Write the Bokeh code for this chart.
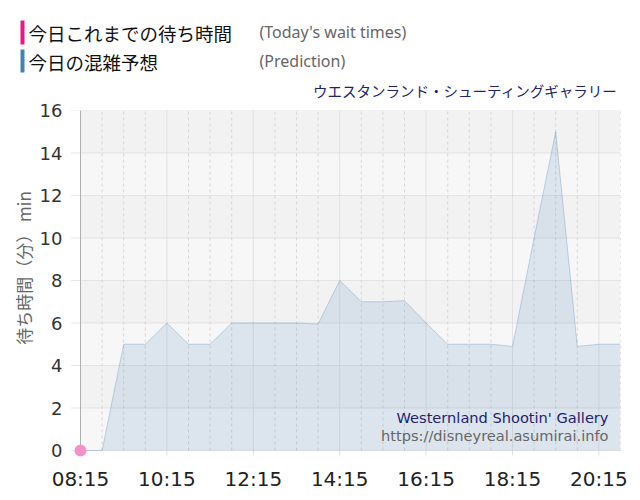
import math
from bokeh.plotting import figure
from bokeh.models import Range1d, FixedTicker, Label
from bokeh.layouts import column, row
from bokeh.embed import file_html
from bokeh.resources import INLINE
from bokeh.core.properties import value

# ---------------- data ----------------
pred_times = ["08:15", "08:45", "09:15", "09:45", "10:15", "10:45", "11:15", "11:45",
              "12:15", "12:45", "13:15", "13:45", "14:15", "14:45", "15:15", "15:45",
              "16:15", "16:45", "17:15", "17:45", "18:15", "18:45", "19:15", "19:45",
              "20:15", "20:45"]
pred_wait = [0, 0, 5, 5, 6, 5, 5, 6,
             6, 6, 6, 5.95, 8, 7, 7, 7.05,
             6, 5, 5, 5, 4.9, 10, 15, 4.9,
             5, 5]
actual_times = ["08:15"]
actual_wait = [0]
x_tick_labels = ["08:15", "10:15", "12:15", "14:15", "16:15", "18:15", "20:15"]
minor_tick_labels = ["08:45", "09:15", "09:45", "10:45", "11:15", "11:45", "12:45", "13:15",
                     "13:45", "14:45", "15:15", "15:45", "16:45", "17:15", "17:45", "18:45",
                     "19:15", "19:45", "20:45"]
y_ticks = [0, 2, 4, 6, 8, 10, 12, 14, 16]
attraction_jp = "ウエスタンランド・シューティングギャラリー"
attraction_en = "Westernland Shootin' Gallery"
site_url = "https://disneyreal.asumirai.info"
legend_actual = ("今日これまでの待ち時間", "(Today's wait times)")
legend_pred = ("今日の混雑予想", "(Prediction)")
y_title = "待ち時間（分） min"


def hours(t):
    h, m = t.split(":")
    return int(h) + int(m) / 60.0


px = [hours(t) for t in pred_times]
ax = [hours(t) for t in actual_times]
xt = [hours(t) for t in x_tick_labels]
xm = [hours(t) for t in minor_tick_labels]

CJK = value("Noto Sans CJK JP")


def blank(width, height, xr, yr):
    f = figure(width=width, height=height, x_range=xr, y_range=yr,
               output_backend="svg", toolbar_location=None, x_axis_type=None, y_axis_type=None,
               min_border=0, min_border_left=0, min_border_right=0, min_border_top=0,
               min_border_bottom=0, outline_line_color=None, frame_align=False)
    f.grid.visible = False
    return f


# ---------------- header (legend + attraction name) ----------------
h = blank(640, 100, Range1d(0, 640), Range1d(100, 0))
h.quad(left=[20, 20], right=[24, 24], top=[20, 49], bottom=[44, 72],
       fill_color=["#f0148c", "#4682b4"], line_color=None)
h.text(x=[28, 28], y=[32, 61], text=[legend_actual[0], legend_pred[0]],
       text_font=CJK, text_font_size="18.5px", text_color="#111111",
       text_baseline="middle", text_align="left")
h.text(x=[259, 259], y=[31, 60], text=[legend_actual[1], legend_pred[1]],
       text_font=value("Noto Sans"), text_font_size="16px", text_color="#666666",
       text_baseline="middle", text_align="left")
h.text(x=[617], y=[89.5], text=[attraction_jp], text_font=CJK, text_font_size="14.5px",
       text_color="#22226e", text_baseline="middle", text_align="right")

# ---------------- y-axis title strip ----------------
SW = 35
s = blank(SW, 400, Range1d(0, SW), Range1d(0, 400))
s.text(x=[22.5], y=[232.5], text=[y_title], angle=math.pi / 2, text_font=CJK,
       text_font_size="17px", text_color="#666666", text_align="center",
       text_baseline="middle")

# ---------------- main chart ----------------
PXH = 43.2      # pixels per hour
PXY = 21.25     # pixels per minute of wait
x0 = xt[0] - 12 / PXH
x1 = 20.75
y0 = -8 / PXY
y1 = 16

p = figure(frame_width=552, frame_height=348, x_range=Range1d(x0, x1), y_range=Range1d(y0, y1),
           output_backend="svg", toolbar_location=None,
           min_border_left=33, min_border_right=20, min_border_top=10, min_border_bottom=42,
           outline_line_color=None, background_fill_color="white", frame_align=False)
p.grid.visible = False

# background bands
band_lo = y_ticks[:-1]
band_hi = y_ticks[1:]
band_col = ["#f7f7f7" if (i % 2 == 0) else "#f2f2f2" for i in range(len(band_lo))]
p.quad(left=xt[0], right=x1, bottom=band_lo, top=band_hi, fill_color=band_col, line_color=None)

# grid lines
p.segment(x0=xm, x1=xm, y0=0, y1=16, line_color="#d6d6d6", line_dash="3 3", line_width=1)
p.segment(x0=xt, x1=xt, y0=-5 / PXY, y1=16, line_color="#e2e2e2", line_width=1)
p.segment(x0=x0 + 3 / PXH, x1=x1, y0=y_ticks, y1=y_ticks, line_color="#cfcfcf",
          line_dash="1 1", line_width=1)

# prediction area
p.varea(x=px, y1=0, y2=pred_wait, fill_color="#4682b4", fill_alpha=0.15)
p.line(x=px, y=pred_wait, line_color="#4682b4", line_alpha=0.3, line_width=1)

# y axis line
p.segment(x0=[xt[0]], x1=[xt[0]], y0=[0], y1=[16], line_color="#b0b0b0", line_width=1)

# actual
p.scatter(x=ax, y=actual_wait, size=12, fill_color="#f590c8", line_color=None)

# axes
p.xaxis.ticker = FixedTicker(ticks=xt)
p.xaxis.major_label_overrides = {v: s_ for v, s_ in zip(xt, x_tick_labels)}
p.xaxis.axis_line_color = None
p.xaxis.major_tick_line_color = None
p.xaxis.minor_tick_line_color = None
p.xaxis.major_tick_out = 0
p.xaxis.major_tick_in = 0
p.xaxis.minor_tick_out = 0
p.xaxis.major_label_text_font = "DejaVu Sans"
p.xaxis.major_label_text_font_size = "20px"
p.xaxis.major_label_text_color = "#222222"
p.xaxis.major_label_standoff = 8

p.yaxis.ticker = FixedTicker(ticks=y_ticks)
p.yaxis.axis_line_color = None
p.yaxis.major_tick_line_color = None
p.yaxis.minor_tick_line_color = None
p.yaxis.major_tick_out = 0
p.yaxis.major_tick_in = 0
p.yaxis.minor_tick_out = 0
p.yaxis.major_label_text_font = "DejaVu Sans"
p.yaxis.major_label_text_font_size = "18px"
p.yaxis.major_label_text_color = "#333333"
p.yaxis.major_label_standoff = 6

# watermarks
p.add_layout(Label(x=xt[0] + 528 / PXH, y=16 - 306.5 / PXY, text=attraction_en,
                   text_font="DejaVu Sans", text_font_size="14.6px", text_color="#22226e",
                   text_align="right", text_baseline="middle"))
p.add_layout(Label(x=xt[0] + 528 / PXH, y=16 - 325 / PXY, text=site_url,
                   text_font="DejaVu Sans", text_font_size="14.6px", text_color="#666666",
                   text_align="right", text_baseline="middle"))

layout = column(h, row(s, p, spacing=0), spacing=0)
open("out.html", "w").write(file_html(layout, INLINE))
